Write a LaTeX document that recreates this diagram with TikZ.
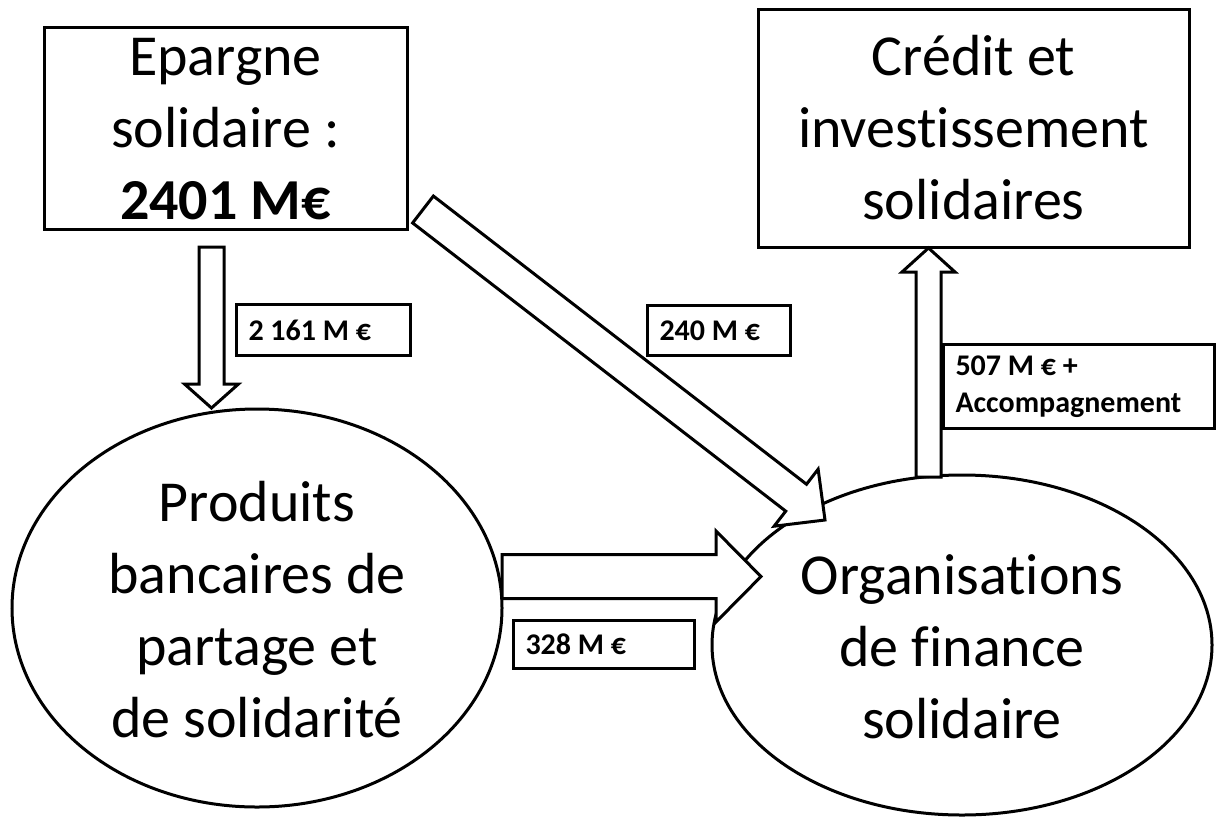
\documentclass[tikz,border=0pt]{standalone}
\usepackage{fontspec}
\setmainfont{Carlito}[Ligatures=NoCommon]
\usetikzlibrary{calc,shapes.geometric}
\newcommand\blockarrow[5]{% #1 tail, #2 tip, #3 shaft half width, #4 head half width, #5 head length
  \coordinate (ba-h) at ($(#2)!#5!(#1)$);
  \draw[blockarr] ($(#1)!#3!90:(#2)$) -- ($(ba-h)!#3!90:(#2)$) -- ($(ba-h)!#4!90:(#2)$) -- (#2)
    -- ($(ba-h)!#4!-90:(#2)$) -- ($(ba-h)!#3!-90:(#2)$) -- ($(#1)!#3!-90:(#2)$) -- cycle;
}
\newcommand\biglines[1]{\begin{tabular}{@{}c@{}}#1\end{tabular}}
\begin{document}
\begin{tikzpicture}[x=1pt,y=-1pt,
  bigtxt/.style={font=\fontsize{58}{72}\selectfont, inner sep=0pt},
  boxnode/.style={draw, line width=3pt, fill=white, inner sep=0pt},
  ellnode/.style={ellipse, draw, line width=3pt, fill=white, inner sep=0pt},
  lbl/.style={draw, line width=3pt, fill=white, font=\fontsize{30}{37}\selectfont\bfseries,
    align=flush left, inner xsep=12pt, inner ysep=0pt, anchor=north west},
  blockarr/.style={draw, line width=3pt, fill=white, line join=miter}]
\useasboundingbox (0,0) rectangle (1222,816);
\fill[white] (0,0) rectangle (1222,816);

% main shapes
\node[ellnode, minimum width=490pt, minimum height=398pt] (produits) at (257,608) {};
\node[ellnode, minimum width=500pt, minimum height=340pt] (orgs) at (962,645) {};
\node[boxnode, minimum width=363pt, minimum height=201pt] (epargne) at (225.5,128.5) {};
\node[boxnode, minimum width=431pt, minimum height=237pt] (credit) at (973.5,128.5) {};

% texts of the main shapes
\node[bigtxt] (produits-t) at ([yshift=-6.6pt]produits.center)
  {\biglines{Produits\\bancaires de\\partage et\\de solidarité}};
\node[bigtxt] (orgs-t) at ([yshift=-7.1pt]orgs.center)
  {\biglines{Organisations\\de finance\\solidaire}};
\node[bigtxt] (epargne-t) at ([yshift=-4.6pt]epargne.center)
  {\biglines{Epargne\\solidaire :\\\textbf{2401 M€}}};
\node[bigtxt] (credit-t) at ([yshift=-4.6pt]credit.center)
  {\biglines{Crédit et\\investissement\\solidaires}};

% arrow end points
\coordinate (dT) at (211.5,247);   \coordinate (dH) at (211.5,408);
\coordinate (gT) at (423,209.5);   \coordinate (gH) at (825,520);
\coordinate (hT) at (502,576.5);   \coordinate (hH) at (761,576.5);
\coordinate (uT) at (928.5,477);   \coordinate (uH) at (928.5,248);

\blockarrow{dT}{dH}{12.5pt}{27pt}{24pt}
\blockarrow{gT}{gH}{17pt}{36pt}{36.5pt}
\blockarrow{hT}{hH}{22pt}{45.5pt}{45pt}
\blockarrow{uT}{uH}{12.5pt}{26.5pt}{24pt}

% labels
\node[lbl, text width=150pt, minimum height=51pt] (l2161) at (235,303) {2 161 M €};
\node[lbl, text width=119pt, minimum height=50pt] (l240) at (646,304) {240 M €};
\node[lbl, text width=157pt, minimum height=48pt] (l328) at (512,619) {328 M €};
\node[lbl, text width=247pt, minimum height=84pt] (l507) at (942,343) {507 M € +\\Accompagnement};
\end{tikzpicture}
\end{document}
